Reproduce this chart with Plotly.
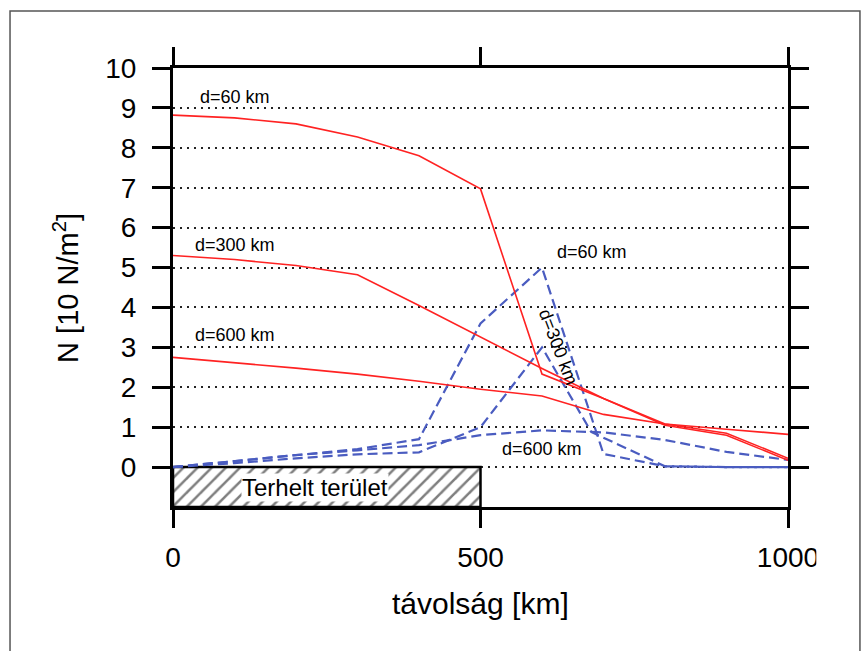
import plotly.graph_objects as go

# ---- data ----
dist = [0, 100, 200, 300, 400, 500, 600, 700, 800, 900, 1000]
red_d60 = [8.82, 8.75, 8.6, 8.27, 7.8, 6.97, 2.33, 1.72, 1.08, 0.85, 0.22]
red_d300 = [5.3, 5.2, 5.05, 4.82, 4.05, 3.25, 2.47, 1.72, 1.05, 0.8, 0.17]
red_d600 = [2.75, 2.62, 2.48, 2.33, 2.15, 1.95, 1.78, 1.32, 1.08, 0.95, 0.82]

blue_d60_x = [0, 100, 200, 300, 400, 500, 600, 700, 800, 900, 1000]
blue_d60 = [0, 0.15, 0.3, 0.45, 0.7, 3.6, 5.0, 0.33, 0.02, 0, 0]
blue_d300_x = [0, 100, 200, 300, 400, 500, 600, 680, 800, 900, 1000]
blue_d300 = [0, 0.1, 0.22, 0.32, 0.37, 1.0, 3.0, 0.88, 0.02, 0, 0]
blue_d600_x = [0, 100, 200, 300, 400, 500, 600, 700, 800, 900, 1000]
blue_d600 = [0, 0.15, 0.3, 0.42, 0.55, 0.8, 0.92, 0.87, 0.68, 0.38, 0.18]

load_start = 0
load_end = 500
load_bottom = -1
load_top = 0
load_label = "Terhelt terület"

x_ticks = [0, 500, 1000]
y_ticks = list(range(0, 11))

labels = ["d=60 km", "d=300 km", "d=600 km", "d=60 km", "d=300 km", "d=600 km"]
x_title = "távolság [km]"
y_title = "N [10 N/m<sup>2</sup>]"

FONT = "Liberation Sans, Arial, Helvetica, sans-serif"
RED = "#ff2222"
BLUE = "#4a5cc0"

fig = go.Figure()

# loaded area (hatched box)
fig.add_trace(go.Bar(
    x=[(load_start + load_end) / 2], y=[load_top - load_bottom], base=[load_bottom],
    width=[load_end - load_start],
    marker=dict(color="white", line=dict(color="black", width=2.5),
                pattern=dict(shape="/", fgcolor="black", bgcolor="white", size=10, solidity=0.25)),
    hoverinfo="skip", showlegend=False,
))

for xs, ys in [(blue_d600_x, blue_d600), (blue_d300_x, blue_d300), (blue_d60_x, blue_d60)]:
    fig.add_trace(go.Scatter(x=xs, y=ys, mode="lines",
                             line=dict(color=BLUE, width=2.2, dash="10px,5px"),
                             showlegend=False, hoverinfo="skip"))

for ys in [red_d600, red_d300, red_d60]:
    fig.add_trace(go.Scatter(x=dist, y=ys, mode="lines",
                             line=dict(color=RED, width=1.6),
                             showlegend=False, hoverinfo="skip"))

ann_font = dict(family=FONT, size=18, color="black")
annotations = [
    dict(x=41, y=9.27, text=labels[0], xanchor="left", yanchor="middle"),
    dict(x=33, y=5.57, text=labels[1], xanchor="left", yanchor="middle"),
    dict(x=33, y=3.3, text=labels[2], xanchor="left", yanchor="middle"),
    dict(x=621, y=5.38, text=labels[3], xanchor="left", yanchor="middle"),
    dict(x=626, y=3.0, text=labels[4], xanchor="center", yanchor="middle", textangle=69),
    dict(x=532, y=0.45, text=labels[5], xanchor="left", yanchor="middle"),
]
for a in annotations:
    a.update(xref="x", yref="y", showarrow=False, font=ann_font)

annotations.append(dict(x=231, y=-0.5, xref="x", yref="y", text=load_label, showarrow=False,
                        font=dict(family=FONT, size=24, color="black"),
                        bgcolor="white", borderpad=0, xanchor="center", yanchor="middle"))
annotations.append(dict(x=0.5, y=-0.2187, xref="paper", yref="paper", text=x_title, showarrow=False,
                        font=dict(family=FONT, size=30, color="black"),
                        xanchor="center", yanchor="middle"))
annotations.append(dict(x=-0.175, y=0.5, xref="paper", yref="paper", text=y_title, showarrow=False,
                        font=dict(family=FONT, size=29, color="black"), textangle=-90,
                        xanchor="center", yanchor="middle"))

fig.update_layout(
    width=863, height=651,
    margin=dict(l=173, r=75, t=68, b=144),
    paper_bgcolor="white", plot_bgcolor="white",
    showlegend=False,
    annotations=annotations,
    shapes=[
        dict(type="rect", xref="paper", yref="paper", x0=-0.265, x1=1.117, y0=-0.34, y1=1.13,
             line=dict(color="#555555", width=1.5), fillcolor="rgba(0,0,0,0)", layer="below"),
        dict(type="rect", xref="paper", yref="paper", x0=1.046, x1=1.11, y0=-0.05, y1=-0.17,
             line=dict(width=0), fillcolor="white", layer="above"),
    ],
    xaxis=dict(range=[0, 1000], tickvals=x_ticks, ticks="outside", ticklen=18, tickwidth=2.5,
               tickcolor="black", showline=True, linecolor="black", linewidth=3, mirror="ticks",
               showgrid=False, zeroline=False, ticklabelstandoff=5,
               tickfont=dict(family=FONT, size=28, color="black")),
    yaxis=dict(range=[-1, 10], tickvals=y_ticks, ticks="outside", ticklen=18, tickwidth=2.5,
               tickcolor="black", showline=True, linecolor="black", linewidth=3, mirror="ticks",
               showgrid=True, gridcolor="#222222", gridwidth=1.5, griddash="1.5px,5.5px",
               zeroline=False, ticklabelstandoff=10,
               tickfont=dict(family=FONT, size=28, color="black")),
)

fig.write_html("out.html")
